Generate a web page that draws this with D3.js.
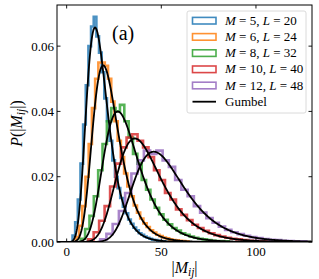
<!DOCTYPE html>
<html>
<head>
<meta charset="utf-8">
<script src="https://cdn.jsdelivr.net/npm/d3@7"></script>
<style>
  body { margin: 0; background: #fff; }
  svg { display: block; }
  text { font-family: "Liberation Serif", "DejaVu Serif", serif; fill: #000; }
</style>
</head>
<body>
<svg id="chart" width="319" height="279"></svg>
<script>
// series labels (M, L) and colours
var sizesM = [5, 6, 8, 10, 12];
var sizesL = [20, 24, 32, 40, 48];
var colors = ["#1f77b4", "#ff7f0e", "#2ca02c", "#d62728", "#9467bd"];

// histogram bins: first edge and width of each bin, per series
var binStart = [3.1, 4.85, 7.45, 11.35, 17.7];
var binWidth = [1.4, 1.7, 2.3, 2.9, 3.3];

// histogram heights
var histM5 = [0.002, 0.006, 0.013, 0.024, 0.036, 0.048, 0.060, 0.066, 0.069, 0.063, 0.058, 0.052,
  0.044, 0.037, 0.031, 0.025, 0.020, 0.0165, 0.0135, 0.0108, 0.0088, 0.0069, 0.0056, 0.0044,
  0.0036, 0.0027, 0.0022, 0.0017, 0.0013, 0.0010, 0.0007, 0.0006, 0.0004, 0.0003, 0.0002];
var histM6 = [0.0015, 0.005, 0.011, 0.020, 0.030, 0.041, 0.050, 0.055, 0.055, 0.054, 0.050, 0.043,
  0.037, 0.031, 0.026, 0.021, 0.017, 0.014, 0.0112, 0.0090, 0.0072, 0.0057, 0.0046, 0.0036,
  0.0029, 0.0022, 0.0018, 0.0014, 0.0011, 0.0008, 0.0006, 0.0005, 0.0004, 0.0003, 0.0002];
var histM8 = [0.001, 0.004, 0.008, 0.014, 0.022, 0.030, 0.037, 0.041, 0.040, 0.042, 0.037, 0.032,
  0.027, 0.024, 0.019, 0.016, 0.013, 0.0105, 0.0085, 0.0068, 0.0054, 0.0043, 0.0035, 0.0027,
  0.0022, 0.0017, 0.0013, 0.0010, 0.0008, 0.0006, 0.0004, 0.0003, 0.0003, 0.0002];
var histM10 = [0.0008, 0.003, 0.0065, 0.011, 0.017, 0.024, 0.029, 0.032, 0.033, 0.031, 0.029, 0.026,
  0.022, 0.019, 0.015, 0.013, 0.010, 0.0083, 0.0067, 0.0053, 0.0043, 0.0034, 0.0027, 0.0021,
  0.0017, 0.0013, 0.0010, 0.0008, 0.0006, 0.0004, 0.0003, 0.0003, 0.0002];
var histM12 = [0.0008, 0.0025, 0.0055, 0.0095, 0.015, 0.021, 0.025, 0.028, 0.027, 0.028, 0.025, 0.023,
  0.019, 0.016, 0.014, 0.011, 0.009, 0.0073, 0.0059, 0.0047, 0.0037, 0.0030, 0.0024, 0.0019,
  0.0015, 0.0012, 0.0009, 0.0007, 0.0006, 0.0004, 0.0003, 0.0002, 0.0002];
var hists = [histM5, histM6, histM8, histM10, histM12];

// fitted Gumbel parameters (location mu, scale beta)
var gumbelMu = [15, 19.3, 27, 36, 46];
var gumbelBeta = [5.6, 6.8, 9.2, 11.6, 13.3];

var xTicks = [0, 50, 100];
var yTicks = [0, 0.02, 0.04, 0.06];

var svg = d3.select("svg"),
  pLeft = 57, pRight = 312, pTop = 5, pBottom = 242;

var x = d3.scaleLinear().domain([-5.1, 129.6]).range([pLeft, pRight]);
var y = d3.scaleLinear().domain([0, 0.0726]).range([pBottom, pTop]);

svg.append("clipPath").attr("id", "clip")
  .append("rect")
  .attr("x", pLeft).attr("y", pTop)
  .attr("width", pRight - pLeft).attr("height", pBottom - pTop);

var plot = svg.append("g").attr("clip-path", "url(#clip)");

// step histograms
hists.forEach(function(h, k) {
  var pts = [[binStart[k], 0]];
  h.forEach(function(v, i) {
    var e0 = binStart[k] + i * binWidth[k];
    pts.push([e0, v]);
    pts.push([e0 + binWidth[k], v]);
  });
  pts.push([binStart[k] + h.length * binWidth[k], 0]);
  plot.append("path")
    .attr("d", d3.line().x(function(d) { return x(d[0]); }).y(function(d) { return y(d[1]); })(pts))
    .attr("fill", "none")
    .attr("stroke", colors[k])
    .attr("stroke-width", 2.6)
    .attr("stroke-opacity", 0.8)
    .attr("stroke-linejoin", "miter");
});

// Gumbel curves
function gumbel(v, mu, beta) {
  var z = (v - mu) / beta;
  return Math.exp(-(z + Math.exp(-z))) / beta;
}
var xs = d3.range(-5, 130.01, 0.25);
gumbelMu.forEach(function(mu, k) {
  plot.append("path")
    .attr("d", d3.line()
      .x(function(v) { return x(v); })
      .y(function(v) { return y(gumbel(v, mu, gumbelBeta[k])); })(xs))
    .attr("fill", "none")
    .attr("stroke", "#000")
    .attr("stroke-width", 1.8);
});

// frame
svg.append("rect")
  .attr("x", pLeft).attr("y", pTop)
  .attr("width", pRight - pLeft).attr("height", pBottom - pTop)
  .attr("fill", "none").attr("stroke", "#000").attr("stroke-width", 1);

// ticks (inward, all four sides)
var tl = 3.5;
xTicks.forEach(function(t) {
  svg.append("line").attr("x1", x(t)).attr("x2", x(t)).attr("y1", pBottom).attr("y2", pBottom - tl)
    .attr("stroke", "#000").attr("stroke-width", 0.9);
  svg.append("line").attr("x1", x(t)).attr("x2", x(t)).attr("y1", pTop).attr("y2", pTop + tl)
    .attr("stroke", "#000").attr("stroke-width", 0.9);
  svg.append("text").attr("x", x(t)).attr("y", 255.5)
    .attr("text-anchor", "middle").attr("font-size", 13).text(t);
});
yTicks.forEach(function(t) {
  svg.append("line").attr("x1", pLeft).attr("x2", pLeft + tl).attr("y1", y(t)).attr("y2", y(t))
    .attr("stroke", "#000").attr("stroke-width", 0.9);
  svg.append("line").attr("x1", pRight).attr("x2", pRight - tl).attr("y1", y(t)).attr("y2", y(t))
    .attr("stroke", "#000").attr("stroke-width", 0.9);
  svg.append("text").attr("x", 54).attr("y", y(t) + 4.5)
    .attr("text-anchor", "end").attr("font-size", 13).text(d3.format(".2f")(t));
});

// axis labels
var xl = svg.append("text").attr("x", (pLeft + pRight) / 2).attr("y", 273)
  .attr("text-anchor", "middle").attr("font-size", 16);
xl.append("tspan").text("|");
xl.append("tspan").attr("font-style", "italic").text("M");
xl.append("tspan").attr("font-style", "italic").attr("font-size", 11.5).attr("dy", 3).text("ij");
xl.append("tspan").attr("dy", -3).text("|");

var yl = svg.append("text")
  .attr("transform", "translate(22," + (pTop + pBottom) / 2 + ") rotate(-90)")
  .attr("text-anchor", "middle").attr("font-size", 16);
yl.append("tspan").attr("font-style", "italic").text("P");
yl.append("tspan").text("(|");
yl.append("tspan").attr("font-style", "italic").text("M");
yl.append("tspan").attr("font-style", "italic").attr("font-size", 11.5).attr("dy", 3).text("ij");
yl.append("tspan").attr("dy", -3).text("|)");

// panel tag
svg.append("text").attr("x", 112).attr("y", 40).attr("font-size", 20).text("(a)");

// legend
var lg = svg.append("g");
lg.append("rect").attr("x", 187).attr("y", 11).attr("width", 119).attr("height", 102)
  .attr("rx", 2).attr("fill", "#fff").attr("fill-opacity", 0.8)
  .attr("stroke", "#d0d0d0").attr("stroke-width", 0.8);
var rowY = d3.scaleLinear().domain([0, 5]).range([20.7, 101.7]);
sizesM.forEach(function(m, k) {
  lg.append("rect").attr("x", 192.5).attr("y", rowY(k) - 3.3).attr("width", 23.5).attr("height", 6.6)
    .attr("fill", "none").attr("stroke", colors[k]).attr("stroke-width", 1.6).attr("stroke-opacity", 0.85);
  var t = lg.append("text").attr("x", 225).attr("y", rowY(k) + 4).attr("font-size", 13);
  t.append("tspan").attr("font-style", "italic").text("M");
  t.append("tspan").text(" = " + m + ", ");
  t.append("tspan").attr("font-style", "italic").text("L");
  t.append("tspan").text(" = " + sizesL[k]);
});
lg.append("line").attr("x1", 192.5).attr("x2", 216).attr("y1", rowY(5)).attr("y2", rowY(5))
  .attr("stroke", "#000").attr("stroke-width", 1.8);
lg.append("text").attr("x", 225).attr("y", rowY(5) + 4).attr("font-size", 13).text("Gumbel");
</script>
</body>
</html>
